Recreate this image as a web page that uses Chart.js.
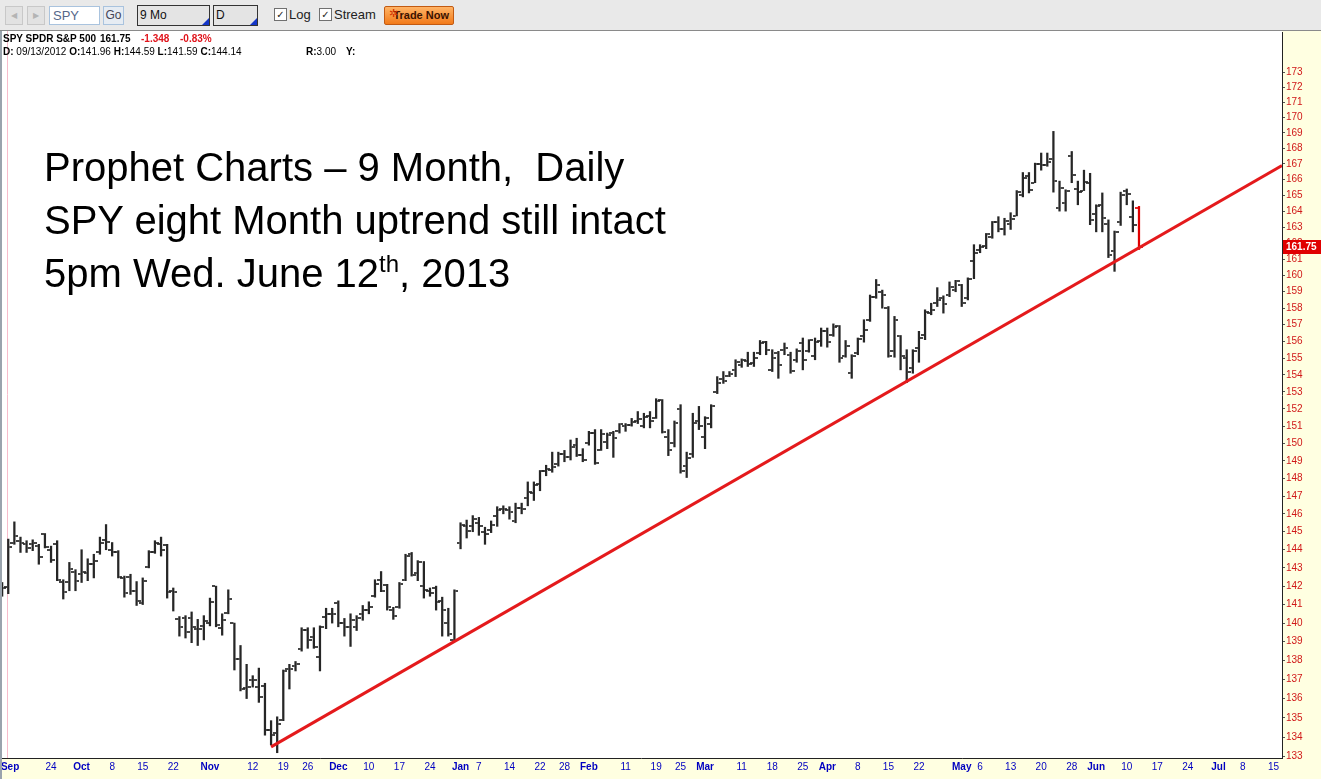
<!DOCTYPE html>
<html><head><meta charset="utf-8">
<script src="https://cdn.jsdelivr.net/npm/chart.js@4.4.0/dist/chart.umd.min.js"></script>
<style>
html,body{margin:0;padding:0;width:1321px;height:779px;overflow:hidden;background:#FFFFE1;font-family:"Liberation Sans",Arial,sans-serif;}
#tb{position:absolute;left:0;top:0;width:1321px;height:30px;background:#E9E9E9;border-bottom:1px solid #8A8A8A;z-index:3;}
.nav{position:absolute;top:6px;width:16px;height:17px;border:1px solid #C8C8C8;background:#E2E2E2;color:#B4B4B4;font:8px "DejaVu Sans";text-align:center;line-height:17px;}
.inp{position:absolute;top:6px;height:17px;border:1px solid #A9C3DE;background:#fff;color:#56678A;font:13px "Liberation Sans";line-height:17px;padding-left:3px;box-sizing:content-box;}
.btn{position:absolute;top:6px;height:17px;border:1px solid #A9C3DE;background:#E6ECF3;font:12px "Liberation Sans";line-height:17px;text-align:center;color:#445;}
.sel{position:absolute;top:5px;height:19px;border:1px solid #333;background:#E4E4E4;font:12px "Liberation Sans";line-height:19px;padding-left:2px;color:#111;}
.sel i{position:absolute;right:0;bottom:0;width:0;height:0;border-left:7px solid transparent;border-bottom:7px solid #1436C8;}
.cb{position:absolute;top:8px;width:11px;height:11px;border:1px solid #707070;background:#fff;font:bold 10px "DejaVu Sans";line-height:11px;text-align:center;color:#222;}
.lbl{position:absolute;top:8px;font:13px "Liberation Sans";color:#222;line-height:14px;}
.trade{position:absolute;top:6px;left:384px;width:68px;height:17px;background:linear-gradient(#FFB466,#F27A1A);border:1px solid #C25A12;border-radius:2px;font:bold 11px "Liberation Sans";color:#3A1200;line-height:17px;text-align:right;box-sizing:content-box;}
.trade span{padding-right:4px;}
.trade b{position:absolute;left:4px;top:0;color:#D03000;font:11px "DejaVu Sans";}
#strip{position:absolute;left:0;top:31px;width:2px;height:748px;background:#9AA3AD;z-index:3;}
#wrap{position:absolute;left:0;top:31px;width:1321px;height:748px;}
.hdr{position:absolute;font-size:10px;line-height:12px;color:#000;white-space:pre;z-index:2;}
.red{color:#E0141C;}
.title{position:absolute;left:44px;font-size:40px;line-height:53px;color:#000;white-space:pre;z-index:2;}
.title sup{font-size:24px;vertical-align:15px;line-height:0;}
</style></head>
<body>
<div id="tb">
  <div class="nav" style="left:5px">◀</div>
  <div class="nav" style="left:27px">▶</div>
  <div class="inp" style="left:49px;width:46px">SPY</div>
  <div class="btn" style="left:103px;width:19px">Go</div>
  <div class="sel" style="left:137px;width:69px">9 Mo<i></i></div>
  <div class="sel" style="left:213px;width:41px">D<i></i></div>
  <div class="cb" style="left:274px">✓</div><span class="lbl" style="left:289px">Log</span>
  <div class="cb" style="left:319px">✓</div><span class="lbl" style="left:334px">Stream</span>
  <div class="trade"><b>✲</b><span>Trade Now</span></div>
</div>
<div id="strip"></div>
<div id="wrap"><canvas id="c" width="1321" height="748"></canvas></div>
<div class="hdr" style="top:33px;left:3px;font-weight:bold">SPY SPDR S&amp;P 500</div>
<div class="hdr" style="top:33px;left:100px;font-weight:bold">161.75</div>
<div class="hdr red" style="top:33px;left:141px;font-weight:bold">-1.348</div>
<div class="hdr red" style="top:33px;left:180px;font-weight:bold">-0.83%</div>
<div class="hdr" style="top:46px;left:3px"><b>D:</b> 09/13/2012 <b>O:</b>141.96 <b>H:</b>144.59 <b>L:</b>141.59 <b>C:</b>144.14</div>
<div class="hdr" style="top:46px;left:306px"><b>R:</b>3.00</div>
<div class="hdr" style="top:46px;left:346px"><b>Y:</b></div>
<div class="title" style="top:141px">Prophet Charts – 9 Month,  Daily</div>
<div class="title" style="top:194px">SPY eight Month uptrend still intact</div>
<div class="title" style="top:247px">5pm Wed. June 12<sup>th</sup>, 2013</div>
<script>
const dates = [
"09/12","09/13","09/14","09/17","09/18","09/19","09/20","09/21","09/24","09/25","09/26","09/27","09/28",
"10/01","10/02","10/03","10/04","10/05","10/08","10/09","10/10","10/11","10/12","10/15","10/16","10/17","10/18","10/19","10/22","10/23","10/24","10/25","10/26","10/31",
"11/01","11/02","11/05","11/06","11/07","11/08","11/09","11/12","11/13","11/14","11/15","11/16","11/19","11/20","11/21","11/23","11/26","11/27","11/28","11/29","11/30",
"12/03","12/04","12/05","12/06","12/07","12/10","12/11","12/12","12/13","12/14","12/17","12/18","12/19","12/20","12/21","12/24","12/26","12/27","12/28","12/31",
"01/02","01/03","01/04","01/07","01/08","01/09","01/10","01/11","01/14","01/15","01/16","01/17","01/18","01/22","01/23","01/24","01/25","01/28","01/29","01/30","01/31",
"02/01","02/04","02/05","02/06","02/07","02/08","02/11","02/12","02/13","02/14","02/15","02/19","02/20","02/21","02/22","02/25","02/26","02/27","02/28",
"03/01","03/04","03/05","03/06","03/07","03/08","03/11","03/12","03/13","03/14","03/15","03/18","03/19","03/20","03/21","03/22","03/25","03/26","03/27","03/28",
"04/01","04/02","04/03","04/04","04/05","04/08","04/09","04/10","04/11","04/12","04/15","04/16","04/17","04/18","04/19","04/22","04/23","04/24","04/25","04/26","04/29","04/30",
"05/01","05/02","05/03","05/06","05/07","05/08","05/09","05/10","05/13","05/14","05/15","05/16","05/17","05/20","05/21","05/22","05/23","05/24","05/28","05/29","05/30","05/31",
"06/03","06/04","06/05","06/06","06/07","06/10","06/11","06/12"];

const opens = [141.8,141.96,144.4,144.5,144.3,144.3,144.2,144.85,144.0,144.3,142.25,142.2,142.8,
142.65,142.7,143.2,143.85,144.55,144.0,143.9,142.45,142.5,141.75,141.1,143.05,143.85,144.3,144.25,141.75,140.2,140.3,140.3,139.7,139.85,
140.0,142.0,139.75,140.55,140.0,138.1,136.55,136.95,136.6,136.65,134.35,134.2,134.9,137.55,137.7,138.6,139.65,139.25,138.2,140.35,140.5,
141.1,140.0,139.8,139.8,140.5,140.7,141.45,142.35,142.05,140.7,140.85,142.35,143.75,142.7,142.0,141.75,141.9,141.2,140.0,139.1,
144.4,145.3,145.3,145.5,145.0,145.1,145.85,146.25,146.2,145.6,146.3,146.9,147.2,147.7,148.4,148.5,148.8,149.4,149.2,149.9,149.35,
150.0,150.6,149.6,150.1,150.6,150.7,151.0,151.05,151.3,151.0,151.6,151.5,152.5,150.4,150.0,152.0,148.7,149.4,151.3,
150.4,151.1,153.0,153.75,153.95,154.3,154.6,154.8,154.7,155.3,155.95,154.3,155.3,155.5,155.2,154.9,155.9,155.4,155.1,156.0,
156.6,156.35,156.9,155.1,154.1,155.3,156.3,157.3,158.7,159.0,158.0,155.4,156.3,155.0,154.4,155.6,156.4,157.7,158.3,158.6,158.8,159.1,
159.4,158.6,160.9,161.6,161.8,162.4,163.3,162.9,163.2,163.7,165.0,166.2,165.8,167.0,166.9,167.3,164.2,164.5,167.5,165.4,165.3,165.8,
163.8,164.4,163.2,161.5,163.3,165.3,163.6,164.2];

const highs = [142.2,144.59,145.55,144.7,144.5,144.55,144.3,144.9,144.2,144.5,142.35,143.3,142.9,
144.0,143.5,143.75,144.7,145.4,144.4,143.95,142.55,142.65,142.25,142.45,143.95,144.5,144.7,144.3,141.9,140.35,140.4,140.6,140.2,140.4,
141.35,142.0,140.5,141.8,140.0,138.8,137.8,137.2,137.6,136.8,134.85,135.05,137.5,137.8,137.95,139.75,139.75,139.75,139.85,140.8,140.8,
141.2,140.25,140.5,140.4,140.95,141.15,142.35,142.8,142.1,140.85,142.2,143.75,143.85,143.4,143.35,141.9,142.0,141.4,140.8,141.8,
145.5,145.65,145.9,145.8,145.25,145.6,146.4,146.45,146.4,146.6,146.6,147.8,147.8,148.45,148.75,149.5,149.5,149.6,150.2,150.3,149.7,
150.7,150.8,150.8,150.6,150.7,151.15,151.15,151.45,151.85,151.75,151.85,152.6,152.55,150.8,151.3,152.25,149.5,151.75,152.15,
151.55,152.25,153.9,154.2,154.2,154.9,154.95,155.35,155.35,156.05,156.0,155.5,155.4,155.9,155.35,155.55,156.2,156.1,156.2,156.8,
156.8,157.05,156.95,156.05,155.2,156.2,157.3,158.8,159.75,159.1,158.1,157.5,156.35,155.5,155.5,156.6,157.9,158.3,159.25,158.75,159.6,159.7,
159.45,159.85,161.9,161.9,162.6,163.35,163.65,163.55,163.9,165.3,166.45,166.45,167.05,167.7,167.7,169.1,165.9,165.35,167.8,165.9,166.6,166.4,
164.4,165.15,163.45,162.75,165.2,165.4,164.65,164.3];

const lows = [141.45,141.59,144.3,143.85,143.85,143.95,143.2,144.1,143.3,142.3,141.3,141.75,141.75,
142.2,142.3,142.45,143.75,144.0,143.65,142.45,141.4,141.55,140.95,141.0,143.0,143.8,143.65,141.35,140.65,139.3,139.2,138.95,138.8,139.1,
139.85,139.8,139.35,140.5,137.5,136.4,136.0,136.6,135.8,134.1,133.6,133.2,134.85,136.5,137.45,138.5,138.65,138.65,137.45,139.7,140.0,
139.8,139.3,138.75,139.6,140.15,140.5,141.4,141.7,140.7,140.2,140.8,142.3,142.55,142.3,141.35,141.45,140.7,139.3,139.3,139.05,
144.05,144.65,145.0,144.8,144.3,144.95,145.3,146.0,145.7,145.5,146.0,146.45,146.75,147.3,148.15,148.35,148.7,148.95,149.05,149.25,148.95,
149.9,148.8,149.6,149.7,149.2,150.6,150.7,151.0,151.15,150.9,150.9,151.45,150.6,149.3,149.8,148.3,148.05,149.2,150.8,
149.7,150.9,152.9,153.5,153.9,153.9,154.45,154.5,154.5,155.2,155.2,154.2,153.8,155.2,154.1,154.75,154.3,155.35,154.9,155.7,
155.65,156.3,154.75,155.05,153.8,155.2,155.95,157.2,158.6,158.0,155.05,155.05,154.3,153.55,154.1,154.75,156.1,157.6,158.1,157.7,158.7,159.0,
158.1,158.5,159.8,161.4,161.65,162.3,162.7,162.5,162.85,163.7,164.9,165.15,165.8,166.6,166.85,165.2,164.0,164.0,165.8,164.4,165.3,163.15,
162.7,162.7,161.1,160.25,163.1,164.4,162.7,161.6];

const closes = [141.9,144.14,144.75,144.4,144.1,144.35,143.6,144.15,143.45,142.35,141.7,142.95,142.3,
142.75,143.2,143.4,144.4,144.45,143.85,142.5,141.6,141.75,141.2,142.3,143.85,144.4,144.0,141.7,141.7,139.8,139.5,139.8,139.7,140.1,
141.15,139.9,140.15,141.3,138.1,136.5,136.6,136.95,136.1,134.35,134.1,134.7,137.45,137.55,137.8,139.65,139.1,138.7,139.8,140.5,140.5,
140.0,139.8,140.15,140.25,140.7,140.85,142.1,141.75,140.85,140.4,142.1,143.65,142.6,143.3,141.8,141.65,141.15,140.7,139.4,141.75,
145.35,145.05,145.7,145.3,144.85,145.35,146.2,146.25,146.1,146.3,146.25,147.25,147.6,148.4,148.55,148.65,149.4,149.2,149.8,149.35,149.05,
150.6,148.9,150.55,150.5,150.3,151.1,151.05,151.25,151.4,151.55,151.3,152.45,150.65,149.6,151.2,148.4,149.15,151.2,151.0,
151.5,152.15,153.55,153.65,154.05,154.75,154.9,154.65,155.0,155.9,155.5,155.0,154.6,155.6,154.25,155.4,154.9,156.05,155.95,156.65,
155.95,156.85,155.0,155.75,155.1,156.15,156.7,158.65,159.4,158.8,155.1,157.3,155.1,154.15,155.45,156.2,157.75,157.9,158.5,158.25,159.3,159.65,
158.3,159.75,161.4,161.75,162.55,163.3,162.9,163.4,163.5,165.2,166.1,165.35,167.0,166.9,167.15,165.9,165.45,165.3,166.3,165.2,165.85,163.45,
164.35,163.55,161.25,162.7,165.05,165.1,163.1,161.75];

const yTickValues = [133,134,135,136,137,138,139,140,141,142,143,144,145,146,147,148,149,150,151,152,153,154,155,156,157,158,159,160,161,162,163,164,165,166,167,168,169,170,171,172,173];

const xTickIndex = [0,8,13,18,23,28,34,41,46,50,55,60,65,70,75,78,83,88,92,96,102,107,111,115,121,126,131,135,140,145,150,157,160,165,170,175,179,184,189,194,199,203,208];
const xTickText  = ["Sep","24","Oct","8","15","22","Nov","12","19","26","Dec","10","17","24","Jan","7","14","22","28","Feb","11","19","25","Mar","11","18","25","Apr","8","15","22","May","6","13","20","28","Jun","10","17","24","Jul","8","15"];
const monthNames = ["Sep","Oct","Nov","Dec","Jan","Feb","Mar","Apr","May","Jun","Jul"];

const trendX = [44.0, 209.4];
const trendY = [133.5, 166.9];

const last = closes.length - 1;
const BAR = '#262626', RED = '#E00000';

function tickImg(side, color) {
  const c = document.createElement('canvas');
  c.width = 8; c.height = 2;
  const g = c.getContext('2d');
  g.fillStyle = color;
  g.globalAlpha = 0.85;
  if (side === 'L') g.fillRect(0, 0, 3, 2); else g.fillRect(5, 0, 3, 2);
  return c;
}
const openBlack = tickImg('L', BAR), closeBlack = tickImg('R', BAR);
const openRed = tickImg('L', RED), closeRed = tickImg('R', RED);

const bgPlugin = {
  id: 'bg',
  beforeDraw(chart) {
    const {ctx, chartArea: a} = chart;
    ctx.save();
    ctx.fillStyle = '#FFFFE1';
    ctx.fillRect(0, 0, chart.width, chart.height);
    ctx.fillStyle = '#FFFFFF';
    ctx.fillRect(a.left, 0, a.right - a.left, a.bottom);
    ctx.restore();
  }
};
const cursorPlugin = {
  id: 'cursor',
  beforeDatasetsDraw(chart) {
    const {ctx, chartArea: a, scales} = chart;
    const x = Math.round(scales.x.getPixelForValue(1)) - 0.5;
    ctx.save();
    ctx.strokeStyle = '#F6BCCB';
    ctx.lineWidth = 1;
    ctx.beginPath(); ctx.moveTo(x, 0); ctx.lineTo(x, a.bottom); ctx.stroke();
    ctx.restore();
  }
};
const badgePlugin = {
  id: 'badge',
  afterDraw(chart) {
    const {ctx, chartArea: a, scales} = chart;
    const y = scales.y.getPixelForValue(closes[last]);
    ctx.save();
    ctx.fillStyle = RED;
    ctx.fillRect(a.right + 1, Math.round(y) - 7, chart.width - a.right - 1, 14);
    ctx.fillStyle = '#FFFFFF';
    ctx.font = 'bold 10px "Liberation Sans"';
    ctx.textBaseline = 'middle';
    ctx.textAlign = 'left';
    ctx.fillText(closes[last].toFixed(2), a.right + 4, Math.round(y));
    ctx.restore();
  }
};

new Chart(document.getElementById('c'), {
  type: 'bar',
  data: {
    datasets: [
      {
        type: 'line', order: 0,
        data: trendX.map((x, k) => ({x: x, y: trendY[k]})),
        borderColor: '#E41A1C', borderWidth: 3, pointRadius: 0, fill: false
      },
      {
        type: 'scatter', order: 1,
        data: opens.map((v, i) => ({x: i, y: v})),
        pointStyle: c => c.dataIndex === last ? openRed : openBlack,
        pointRadius: 2, pointHoverRadius: 2, pointBorderWidth: 0
      },
      {
        type: 'scatter', order: 1,
        data: closes.map((v, i) => ({x: i, y: v})),
        pointStyle: c => c.dataIndex === last ? closeRed : closeBlack,
        pointRadius: 2, pointHoverRadius: 2, pointBorderWidth: 0
      },
      {
        type: 'bar', order: 2,
        data: highs.map((h, i) => ({x: i, y: [lows[i], h]})),
        backgroundColor: c => c.dataIndex === last ? RED : BAR,
        borderWidth: 0,
        barThickness: 1.6
      }
    ]
  },
  options: {
    responsive: false,
    animation: false,
    events: [],
    layout: {autoPadding: false, padding: {left: 0, top: 1, right: 0, bottom: 0}},
    plugins: {legend: {display: false}, tooltip: {enabled: false}},
    scales: {
      x: {
        type: 'linear', min: -0.35, max: 209.4, bounds: 'data', offset: false,
        grid: {display: false, drawTicks: false},
        border: {display: true, color: '#222', width: 1},
        afterBuildTicks: s => { s.ticks = xTickIndex.map((v, k) => ({value: k === 0 ? v + 1.3 : v})); },
        afterFit: s => { s.height = 21; s.paddingLeft = 0; s.paddingRight = 0; },
        ticks: {
          autoSkip: false, maxRotation: 0, minRotation: 0, padding: 3,
          color: '#0000C0',
          font: c => ({family: '"Liberation Sans"', size: 10, weight: monthNames.includes(xTickText[c.index]) ? 'bold' : 'normal'}),
          callback: (v, idx) => xTickText[idx]
        }
      },
      y: {
        type: 'logarithmic', position: 'right', min: 132.93, max: 175.68, bounds: 'data',
        grid: {drawOnChartArea: false, drawTicks: true, tickLength: 3, color: '#555'},
        border: {display: true, color: '#222', width: 1},
        afterBuildTicks: s => { s.ticks = yTickValues.map(v => ({value: v})); },
        afterFit: s => { s.width = 39; s.paddingTop = 0; s.paddingBottom = 0; },
        ticks: {
          autoSkip: false, padding: 1, color: '#D01818',
          font: {family: '"Liberation Sans"', size: 10},
          callback: v => String(v)
        }
      }
    }
  },
  plugins: [bgPlugin, cursorPlugin, badgePlugin]
});
</script>
</body></html>
